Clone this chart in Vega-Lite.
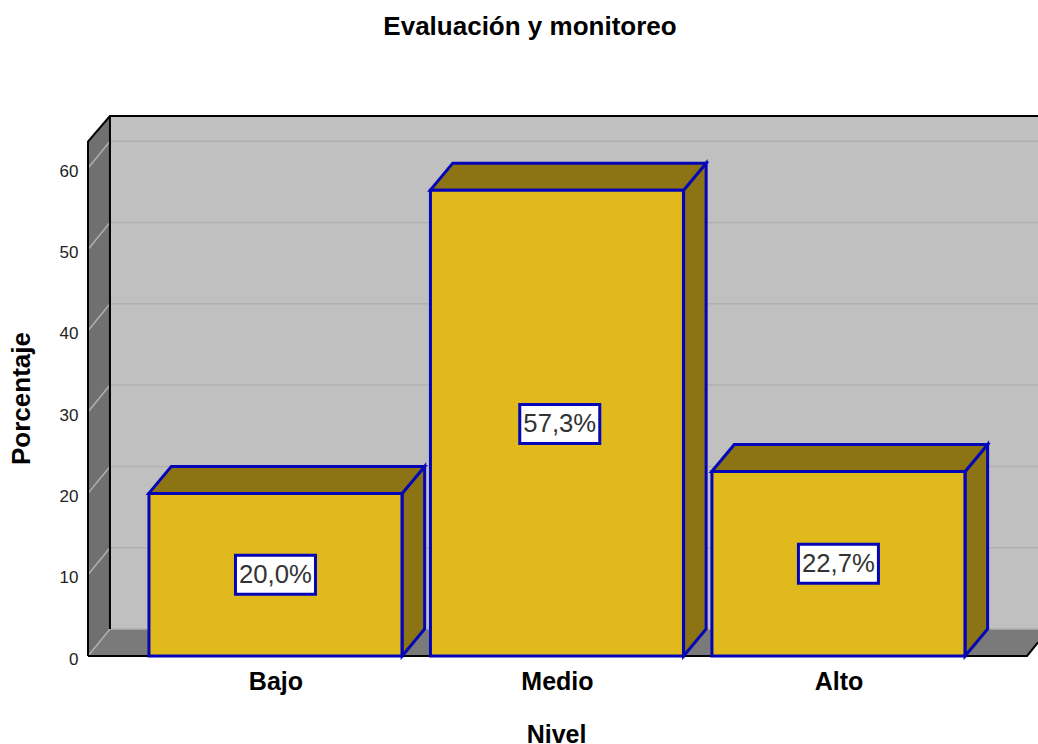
{
"$schema":"https://vega.github.io/schema/vega-lite/v6.json",
"width":950,"height":540,
"autosize":{"type":"none"},
"padding":{"left":88,"top":116,"right":0,"bottom":88},
"background":"white",
"config":{"view":{"stroke":null},"font":"Liberation Sans"},
"title":{"text":"Evaluación y monitoreo","anchor":"middle","frame":"group","dx":-33,"offset":72,"fontSize":26,"fontWeight":"bold","font":"Liberation Sans","color":"#000000"},
"datasets":{
"paredFondo":[{"posicion":0.412,"posicion2":3.709,"valor":3.32,"valor2":66.42}],
"paredIzquierda":[{"posicion":0.334,"valor":0,"valor2":63.26},{"posicion":0.412,"valor":3.32,"valor2":66.42}],
"suelo":[{"valor":0,"posicion":0.334,"posicion2":3.67},{"valor":3.32,"posicion":0.412,"posicion2":3.75}],
"rejilla":[
{"nivelEje":0,"orden":1,"posicion":0.334,"valor":0},{"nivelEje":0,"orden":2,"posicion":0.412,"valor":3.32},{"nivelEje":0,"orden":3,"posicion":3.709,"valor":3.32},
{"nivelEje":10,"orden":1,"posicion":0.334,"valor":10},{"nivelEje":10,"orden":2,"posicion":0.412,"valor":13.32},{"nivelEje":10,"orden":3,"posicion":3.709,"valor":13.32},
{"nivelEje":20,"orden":1,"posicion":0.334,"valor":20},{"nivelEje":20,"orden":2,"posicion":0.412,"valor":23.32},{"nivelEje":20,"orden":3,"posicion":3.709,"valor":23.32},
{"nivelEje":30,"orden":1,"posicion":0.334,"valor":30},{"nivelEje":30,"orden":2,"posicion":0.412,"valor":33.32},{"nivelEje":30,"orden":3,"posicion":3.709,"valor":33.32},
{"nivelEje":40,"orden":1,"posicion":0.334,"valor":40},{"nivelEje":40,"orden":2,"posicion":0.412,"valor":43.32},{"nivelEje":40,"orden":3,"posicion":3.709,"valor":43.32},
{"nivelEje":50,"orden":1,"posicion":0.334,"valor":50},{"nivelEje":50,"orden":2,"posicion":0.412,"valor":53.32},{"nivelEje":50,"orden":3,"posicion":3.709,"valor":53.32},
{"nivelEje":60,"orden":1,"posicion":0.334,"valor":60},{"nivelEje":60,"orden":2,"posicion":0.412,"valor":63.32},{"nivelEje":60,"orden":3,"posicion":3.709,"valor":63.32}
],
"bordes":[
{"tramo":"a","orden":1,"posicion":0.334,"valor":0},{"tramo":"a","orden":2,"posicion":0.334,"valor":63.26},{"tramo":"a","orden":3,"posicion":0.412,"valor":66.42},{"tramo":"a","orden":4,"posicion":3.709,"valor":66.42},
{"tramo":"b","orden":1,"posicion":0.412,"valor":66.42},{"tramo":"b","orden":2,"posicion":0.412,"valor":3.32},
{"tramo":"c","orden":1,"posicion":0.334,"valor":0},{"tramo":"c","orden":2,"posicion":3.67,"valor":0},{"tramo":"c","orden":3,"posicion":3.709,"valor":1.66}
],
"lados":[
{"nivel":"Bajo","posicion":1.45,"valor":0,"valor2":20.0},{"nivel":"Bajo","posicion":1.53,"valor":3.32,"valor2":23.32},
{"nivel":"Medio","posicion":2.45,"valor":0,"valor2":57.3},{"nivel":"Medio","posicion":2.53,"valor":3.32,"valor2":60.62},
{"nivel":"Alto","posicion":3.45,"valor":0,"valor2":22.7},{"nivel":"Alto","posicion":3.53,"valor":3.32,"valor2":26.02}
],
"tapas":[
{"nivel":"Bajo","valor":20.0,"posicion":0.55,"posicion2":1.45},{"nivel":"Bajo","valor":23.32,"posicion":0.63,"posicion2":1.53},
{"nivel":"Medio","valor":57.3,"posicion":1.55,"posicion2":2.45},{"nivel":"Medio","valor":60.62,"posicion":1.63,"posicion2":2.53},
{"nivel":"Alto","valor":22.7,"posicion":2.55,"posicion2":3.45},{"nivel":"Alto","valor":26.02,"posicion":2.63,"posicion2":3.53}
],
"barras":[
{"nivel":"Bajo","posicion":1,"valor":20.0},
{"nivel":"Medio","posicion":2,"valor":57.3},
{"nivel":"Alto","posicion":3,"valor":22.7}
],
"etiquetas":[
{"nivel":"Bajo","posicion":1,"valor":10.0,"etiqueta":"20,0%"},
{"nivel":"Medio","posicion":2.01,"valor":28.55,"etiqueta":"57,3%"},
{"nivel":"Alto","posicion":3,"valor":11.35,"etiqueta":"22,7%"}
]
},
"encoding":{
"x":{"field":"posicion","type":"quantitative","scale":{"domain":[0.334,3.709],"nice":false,"zero":false,"padding":0},
"axis":{"values":[1,2,3],"labelExpr":"datum.value==1?'Bajo':datum.value==2?'Medio':'Alto'","grid":false,"domain":false,"ticks":false,"labelFont":"Liberation Sans","labelFontSize":25,"labelFontWeight":"bold","labelColor":"#000000","labelPadding":13,"title":"Nivel","titleFont":"Liberation Sans","titleFontSize":25,"titleFontWeight":"bold","titleColor":"#000000","titleX":468,"titleY":66,"titleAnchor":"middle","titleAlign":"center"}},
"y":{"field":"valor","type":"quantitative","stack":null,"scale":{"domain":[0,66.42],"nice":false,"zero":false},
"axis":{"values":[0,10,20,30,40,50,60],"grid":false,"domain":false,"ticks":false,"labelFont":"Liberation Sans","labelFontSize":17,"labelColor":"#222222","labelPadding":10,"labelOffset":3,"title":"Porcentaje","titleFont":"Liberation Sans","titleFontSize":26,"titleFontWeight":"bold","titleColor":"#000000","titleX":-54,"titleY":282,"titleAnchor":"middle","titleAlign":"center"}}
},
"layer":[
{"data":{"name":"paredFondo"},"mark":{"type":"rect","fill":"#c0c0c0"},"encoding":{"x2":{"field":"posicion2"},"y2":{"field":"valor2"}}},
{"data":{"name":"paredIzquierda"},"mark":{"type":"area","orient":"vertical","fill":"#707070"},"encoding":{"y2":{"field":"valor2"}}},
{"data":{"name":"suelo"},"mark":{"type":"area","orient":"horizontal","fill":"#7a7a7a","clip":true},"encoding":{"x2":{"field":"posicion2"}}},
{"data":{"name":"rejilla"},"mark":{"type":"line","stroke":"#b0b0b0","strokeWidth":1.5},"encoding":{"detail":{"field":"nivelEje"},"order":{"field":"orden","type":"quantitative"}}},
{"data":{"name":"bordes"},"mark":{"type":"line","stroke":"#000000","strokeWidth":2},"encoding":{"detail":{"field":"tramo"},"order":{"field":"orden","type":"quantitative"}}},
{"data":{"name":"lados"},"mark":{"type":"area","orient":"vertical","fill":"#8c7415","stroke":"#0505b8","strokeWidth":3},"encoding":{"y2":{"field":"valor2"},"detail":{"field":"nivel"}}},
{"data":{"name":"tapas"},"mark":{"type":"area","orient":"horizontal","fill":"#8c7415","stroke":"#0505b8","strokeWidth":3},"encoding":{"x2":{"field":"posicion2"},"detail":{"field":"nivel"}}},
{"data":{"name":"barras"},"mark":{"type":"bar","orient":"vertical","size":253,"fill":"#e0ba1d","stroke":"#0505b8","strokeWidth":3}},
{"data":{"name":"etiquetas"},"mark":{"type":"rect","width":80,"height":39,"fill":"#ffffff","stroke":"#0505b8","strokeWidth":3}},
{"data":{"name":"etiquetas"},"mark":{"type":"text","font":"Liberation Sans","fontSize":25.7,"color":"#333333","align":"center","baseline":"middle"},"encoding":{"text":{"field":"etiqueta"}}}
]
}
